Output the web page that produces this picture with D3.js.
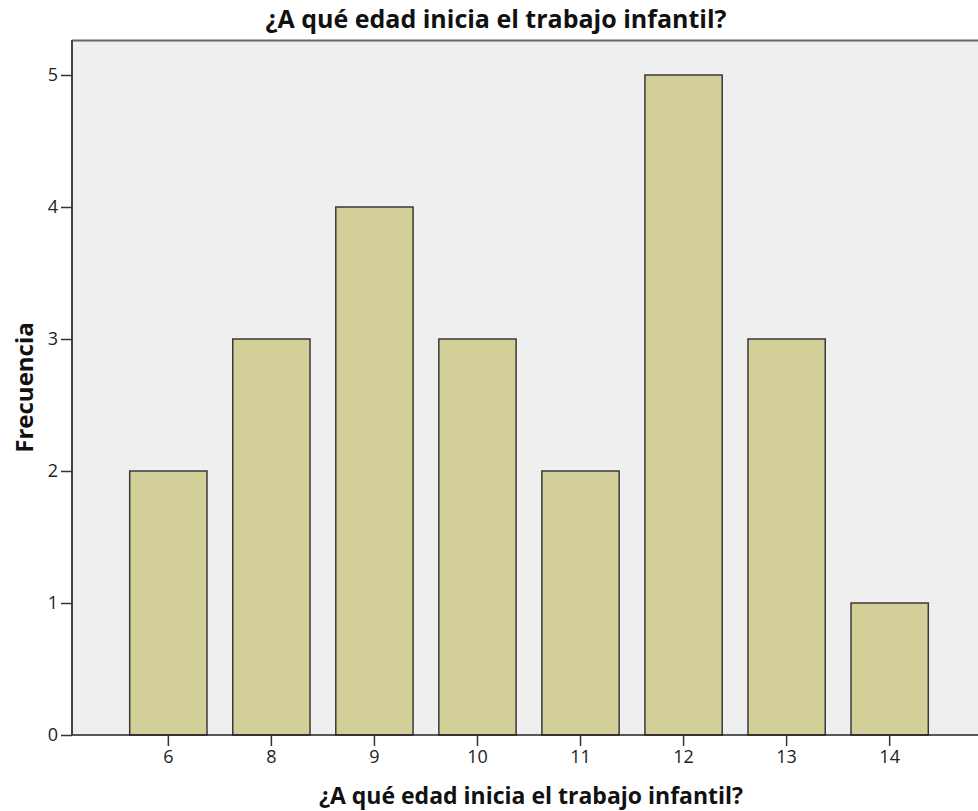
<!DOCTYPE html>
<html>
<head>
<meta charset="utf-8">
<script src="https://cdn.jsdelivr.net/npm/d3@7"></script>
<style>
  html, body { margin: 0; padding: 0; background: #fff; }
  svg { display: block; }
  text { font-family: "Open Sans", "DejaVu Sans", sans-serif; fill: #111; }
</style>
</head>
<body>
<svg id="chart" width="978" height="811"></svg>
<script>
// Ages at which child labour begins, and how many respondents gave each
const ages = ["6", "8", "9", "10", "11", "12", "13", "14"];
const counts = [2, 3, 4, 3, 2, 5, 3, 1];
const yTicks = [0, 1, 2, 3, 4, 5];

const chartTitle = "¿A qué edad inicia el trabajo infantil?";
const xTitle = "¿A qué edad inicia el trabajo infantil?";
const yTitle = "Frecuencia";

const svg = d3.select("#chart");
const plot = { left: 72, top: 40, right: 986, bottom: 735 };

const x = d3.scaleBand()
  .domain(ages)
  .range([plot.left, plot.right])
  .paddingInner(0.25)
  .paddingOuter(0.56);

const y = d3.scaleLinear()
  .domain([0, 5])
  .range([plot.bottom, plot.bottom - 5 * 132]);

// plot background
svg.append("rect")
  .attr("x", plot.left).attr("y", plot.top)
  .attr("width", plot.right - plot.left)
  .attr("height", plot.bottom - plot.top)
  .attr("fill", "#efefef");

// top frame line
svg.append("line")
  .attr("x1", plot.left).attr("x2", plot.right)
  .attr("y1", plot.top + 0.5).attr("y2", plot.top + 0.5)
  .attr("stroke", "#666").attr("stroke-width", 2);

// bars
svg.append("g").selectAll("rect")
  .data(ages.map((a, i) => ({ age: a, n: counts[i] })))
  .join("rect")
  .attr("x", d => x(d.age))
  .attr("y", d => y(d.n))
  .attr("width", x.bandwidth())
  .attr("height", d => y(0) - y(d.n))
  .attr("fill", "#d3cf98")
  .attr("stroke", "#3a3a3a")
  .attr("stroke-width", 1.5);

// y axis
const yAxis = svg.append("g")
  .attr("transform", `translate(${plot.left},0)`)
  .call(d3.axisLeft(y).tickValues(yTicks).tickFormat(d3.format("d")).tickSize(11).tickPadding(3));
yAxis.select(".domain").attr("stroke", "#444").attr("stroke-width", 2)
  .attr("d", `M0,${plot.top}V${plot.bottom}`);
yAxis.selectAll(".tick line").attr("stroke", "#333").attr("stroke-width", 1.5);
yAxis.selectAll(".tick text").attr("font-size", 18).style("fill", "#222");

// x axis
const xAxis = svg.append("g")
  .attr("transform", `translate(0,${plot.bottom})`)
  .call(d3.axisBottom(x).tickSize(11).tickPadding(4));
xAxis.select(".domain").attr("stroke", "#222").attr("stroke-width", 1.5)
  .attr("d", `M${plot.left},0H${plot.right}`);
xAxis.selectAll(".tick line").attr("stroke", "#333").attr("stroke-width", 1.5);
xAxis.selectAll(".tick text").attr("font-size", 18).style("fill", "#222");

// titles
svg.append("text")
  .attr("x", 496).attr("y", 28)
  .attr("text-anchor", "middle")
  .attr("font-size", 25).attr("font-weight", "bold")
  .text(chartTitle);

svg.append("text")
  .attr("x", 531).attr("y", 804)
  .attr("text-anchor", "middle")
  .attr("font-size", 23).attr("font-weight", "bold")
  .text(xTitle);

svg.append("text")
  .attr("transform", `translate(33,${(plot.top + plot.bottom) / 2}) rotate(-90)`)
  .attr("text-anchor", "middle")
  .attr("font-size", 24).attr("font-weight", "bold")
  .text(yTitle);
</script>
</body>
</html>
